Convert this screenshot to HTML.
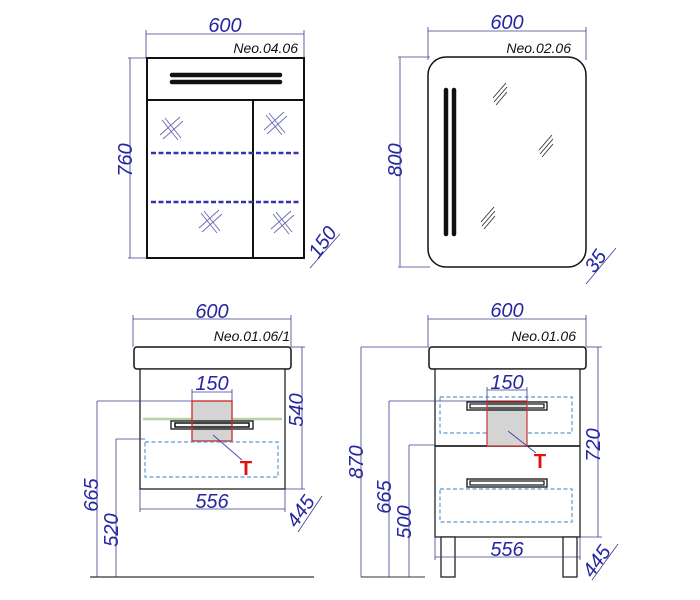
<!DOCTYPE html>
<html><head><meta charset="utf-8"><style>
html,body{margin:0;padding:0;background:#fff;width:700px;height:600px;overflow:hidden}
svg{display:block}
.d{stroke:#3b3b8f;stroke-width:0.8;fill:none}
.n{font-family:"Liberation Sans",sans-serif;font-style:italic;font-size:20px;fill:#2626a0}
.l{font-family:"Liberation Sans",sans-serif;font-style:italic;font-size:14px;fill:#111}
.k{stroke:#111;stroke-width:2;fill:#fff}
.bd{stroke:#3333b0;stroke-width:2.5;stroke-dasharray:5,2.5;fill:none}
.cd{stroke:#5a9bd0;stroke-width:1.2;stroke-dasharray:4,2.5;fill:none}
.s{stroke:#6a6ab0;stroke-width:0.9}
</style></head><body>
<svg width="700" height="600" viewBox="0 0 700 600" xmlns="http://www.w3.org/2000/svg">
<!-- Top-left cabinet Neo.04.06 -->
<line class="d" x1="146" y1="34" x2="304" y2="34"/>
<line class="d" x1="146" y1="30" x2="146" y2="58"/><line class="d" x1="304" y1="30" x2="304" y2="58"/>
<text class="n" x="225" y="32" text-anchor="middle">600</text>
<text class="l" x="298" y="53" text-anchor="end">Neo.04.06</text>
<line class="d" x1="130" y1="58" x2="130" y2="258"/>
<line class="d" x1="128" y1="58" x2="146" y2="58"/><line class="d" x1="128" y1="258" x2="146" y2="258"/>
<text class="n" transform="translate(132,160) rotate(-90)" text-anchor="middle">760</text>
<rect class="k" x="147" y="58" width="157" height="200"/>
<line stroke="#111" stroke-width="2" x1="147" y1="100" x2="304" y2="100"/>
<line stroke="#111" stroke-width="2" x1="253" y1="100" x2="253" y2="258"/>
<line stroke="#111" stroke-width="4.5" stroke-linecap="round" x1="172" y1="75" x2="280" y2="75"/>
<line stroke="#111" stroke-width="4.5" stroke-linecap="round" x1="172" y1="82" x2="280" y2="82"/>
<line class="bd" x1="151" y1="153" x2="301" y2="153"/>
<line class="bd" x1="151" y1="202" x2="301" y2="202"/>
<g class="s">
<path d="M160 135 L180 117 M163 139 L183 121 M162 120 L178 140 M165 118 L181 138"/>
<path d="M264 130 L284 112 M267 134 L287 116 M266 115 L282 135 M269 113 L285 133"/>
<path d="M199 228 L219 210 M202 232 L222 214 M201 213 L217 233 M204 211 L220 231"/>
<path d="M271 229 L291 211 M274 233 L294 215 M273 214 L289 234 M276 212 L292 232"/>
</g>
<line class="d" x1="310" y1="268" x2="340" y2="234"/>
<text class="n" transform="translate(328,246) rotate(-55)" text-anchor="middle">150</text>

<!-- Top-right mirror Neo.02.06 -->
<line class="d" x1="428" y1="31" x2="586" y2="31"/>
<line class="d" x1="428" y1="27" x2="428" y2="60"/><line class="d" x1="586" y1="27" x2="586" y2="60"/>
<text class="n" x="507" y="29" text-anchor="middle">600</text>
<text class="l" x="571" y="53" text-anchor="end">Neo.02.06</text>
<line class="d" x1="400" y1="57" x2="400" y2="267"/>
<line class="d" x1="398" y1="57" x2="430" y2="57"/><line class="d" x1="398" y1="267" x2="430" y2="267"/>
<text class="n" transform="translate(402,160) rotate(-90)" text-anchor="middle">800</text>
<rect x="428" y="57" width="158" height="210" rx="18" ry="18" fill="#fff" stroke="#111" stroke-width="1.5"/>
<line stroke="#111" stroke-width="4.5" stroke-linecap="round" x1="446" y1="90" x2="446" y2="234"/>
<line stroke="#111" stroke-width="4.5" stroke-linecap="round" x1="454" y1="90" x2="454" y2="234"/>
<g stroke="#333" stroke-width="0.9">
<path d="M493 98 L506 83 M494 102 L507 87 M496 105 L507 92"/>
<path d="M539 150 L552 135 M540 154 L553 139 M542 157 L553 144"/>
<path d="M481 222 L494 207 M482 226 L495 211 M484 229 L495 216"/>
</g>
<line class="d" x1="586" y1="284" x2="616" y2="248"/>
<text class="n" transform="translate(601,265) rotate(-55)" text-anchor="middle">35</text>

<!-- Bottom-left Neo.01.06/1 -->
<line class="d" x1="133" y1="319" x2="291" y2="319"/>
<line class="d" x1="133" y1="315" x2="133" y2="347"/><line class="d" x1="291" y1="315" x2="291" y2="347"/>
<text class="n" x="212" y="318" text-anchor="middle">600</text>
<text class="l" x="290" y="341" text-anchor="end">Neo.01.06/1</text>
<line class="d" x1="302" y1="347" x2="302" y2="489"/>
<line class="d" x1="291" y1="347" x2="305" y2="347"/><line class="d" x1="285" y1="489" x2="305" y2="489"/>
<text class="n" transform="translate(303,410) rotate(-90)" text-anchor="middle">540</text>
<rect x="134" y="347" width="157" height="22" rx="3" fill="#fff" stroke="#111" stroke-width="1.5"/>
<rect x="140" y="369" width="145" height="120" fill="#fff" stroke="#222" stroke-width="1.3"/>
<line stroke="#b8d0a8" stroke-width="2.5" x1="143" y1="419" x2="282" y2="419"/>
<rect x="192" y="401" width="40" height="40" fill="#d4d4d4" stroke="#d03030" stroke-width="1.2"/>
<rect x="171" y="421" width="82" height="8" fill="none" stroke="#111" stroke-width="1.3"/>
<rect x="175" y="423" width="74" height="4" fill="none" stroke="#111" stroke-width="1.5"/>
<rect x="192" y="401" width="40" height="40" fill="none" stroke="#d03030" stroke-width="1.2"/>
<line class="d" x1="192" y1="392" x2="232" y2="392"/>
<line class="d" x1="192" y1="389" x2="192" y2="401"/><line class="d" x1="232" y1="389" x2="232" y2="401"/>
<text class="n" x="212" y="390" text-anchor="middle">150</text>
<rect class="cd" x="145" y="442" width="133" height="35"/>
<line stroke="#4444aa" stroke-width="0.9" x1="213" y1="435" x2="242" y2="460"/>
<text x="246" y="475" font-family="Liberation Sans,sans-serif" font-weight="bold" font-size="20" fill="#e01010" text-anchor="middle">T</text>
<line class="d" x1="97" y1="401" x2="97" y2="577"/><line class="d" x1="97" y1="401" x2="192" y2="401"/>
<text class="n" transform="translate(98,495) rotate(-90)" text-anchor="middle">665</text>
<line class="d" x1="116" y1="439" x2="116" y2="577"/><line class="d" x1="116" y1="439" x2="145" y2="439"/>
<text class="n" transform="translate(118,530) rotate(-90)" text-anchor="middle">520</text>
<line stroke="#333" stroke-width="1.3" x1="90" y1="577" x2="314" y2="577"/>
<line class="d" x1="140" y1="509" x2="285" y2="509"/>
<line class="d" x1="140" y1="489" x2="140" y2="512"/><line class="d" x1="285" y1="489" x2="285" y2="512"/>
<text class="n" x="212" y="508" text-anchor="middle">556</text>
<line class="d" x1="298" y1="532" x2="322" y2="496"/>
<text class="n" transform="translate(306,515) rotate(-55)" text-anchor="middle">445</text>

<!-- Bottom-right Neo.01.06 -->
<line class="d" x1="428" y1="319" x2="586" y2="319"/>
<line class="d" x1="428" y1="315" x2="428" y2="347"/><line class="d" x1="586" y1="315" x2="586" y2="347"/>
<text class="n" x="507" y="317" text-anchor="middle">600</text>
<text class="l" x="576" y="341" text-anchor="end">Neo.01.06</text>
<line class="d" x1="598" y1="347" x2="598" y2="537"/>
<line class="d" x1="586" y1="347" x2="602" y2="347"/><line class="d" x1="580" y1="537" x2="602" y2="537"/>
<text class="n" transform="translate(600,445) rotate(-90)" text-anchor="middle">720</text>
<rect x="429" y="347" width="157" height="22" rx="3" fill="#fff" stroke="#111" stroke-width="1.5"/>
<rect x="435" y="369" width="145" height="168" fill="#fff" stroke="#222" stroke-width="1.3"/>
<line stroke="#222" stroke-width="1.8" x1="435" y1="446" x2="580" y2="446"/>
<rect x="441" y="537" width="14" height="40" fill="#fff" stroke="#222" stroke-width="1.3"/>
<rect x="563" y="537" width="14" height="40" fill="#fff" stroke="#222" stroke-width="1.3"/>
<rect class="cd" x="440" y="397" width="132" height="36"/>
<rect class="cd" x="440" y="489" width="132" height="33"/>
<rect x="487" y="401" width="40" height="45" fill="#d4d4d4"/>
<rect x="467" y="402" width="80" height="8" fill="none" stroke="#111" stroke-width="1.3"/>
<rect x="470" y="404" width="74" height="4" fill="none" stroke="#111" stroke-width="1.2"/>
<rect x="467" y="479" width="80" height="8" fill="#fff" stroke="#111" stroke-width="1.3"/>
<rect x="470" y="481" width="74" height="4" fill="none" stroke="#111" stroke-width="1.2"/>
<rect x="487" y="401" width="40" height="45" fill="none" stroke="#d03030" stroke-width="1.2"/>
<line class="d" x1="487" y1="390" x2="527" y2="390"/>
<line class="d" x1="487" y1="387" x2="487" y2="401"/><line class="d" x1="527" y1="387" x2="527" y2="401"/>
<text class="n" x="507" y="389" text-anchor="middle">150</text>
<line stroke="#4444aa" stroke-width="0.9" x1="508" y1="431" x2="536" y2="453"/>
<text x="540" y="468" font-family="Liberation Sans,sans-serif" font-weight="bold" font-size="20" fill="#e01010" text-anchor="middle">T</text>
<line class="d" x1="361" y1="347" x2="361" y2="577"/><line class="d" x1="361" y1="347" x2="429" y2="347"/>
<text class="n" transform="translate(363,462) rotate(-90)" text-anchor="middle">870</text>
<line class="d" x1="389" y1="401" x2="389" y2="577"/><line class="d" x1="389" y1="401" x2="487" y2="401"/>
<text class="n" transform="translate(391,497) rotate(-90)" text-anchor="middle">665</text>
<line class="d" x1="409" y1="445" x2="409" y2="577"/><line class="d" x1="409" y1="445" x2="435" y2="445"/>
<text class="n" transform="translate(411,522) rotate(-90)" text-anchor="middle">500</text>
<line stroke="#333" stroke-width="1" x1="361" y1="577" x2="425" y2="577"/>
<line class="d" x1="435" y1="557" x2="580" y2="557"/>
<line class="d" x1="435" y1="537" x2="435" y2="560"/><line class="d" x1="580" y1="537" x2="580" y2="560"/>
<text class="n" x="507" y="556" text-anchor="middle">556</text>
<line class="d" x1="592" y1="580" x2="618" y2="544"/>
<text class="n" transform="translate(602,565) rotate(-55)" text-anchor="middle">445</text>
</svg>
</body></html>
